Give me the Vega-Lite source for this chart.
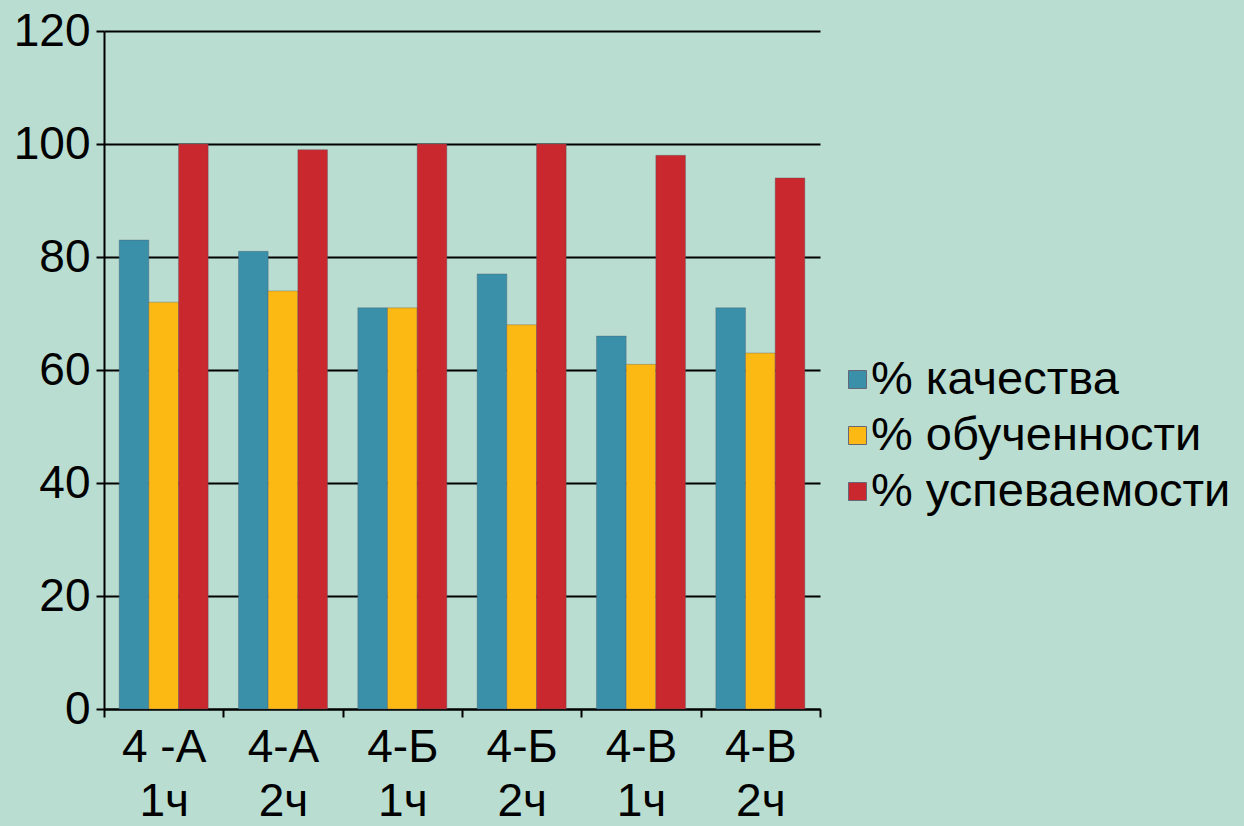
{
  "$schema": "https://vega.github.io/schema/vega-lite/v6.json",
  "width": 716,
  "height": 678,
  "autosize": "none",
  "padding": {"left": 104, "top": 31, "right": 424, "bottom": 117},
  "background": "#b9ddd0",
  "data": {
    "values": [
      {"group": "4 -А|1ч", "series": "% качества", "value": 83},
      {"group": "4 -А|1ч", "series": "% обученности", "value": 72},
      {"group": "4 -А|1ч", "series": "% успеваемости", "value": 100},
      {"group": "4-А|2ч", "series": "% качества", "value": 81},
      {"group": "4-А|2ч", "series": "% обученности", "value": 74},
      {"group": "4-А|2ч", "series": "% успеваемости", "value": 99},
      {"group": "4-Б|1ч", "series": "% качества", "value": 71},
      {"group": "4-Б|1ч", "series": "% обученности", "value": 71},
      {"group": "4-Б|1ч", "series": "% успеваемости", "value": 100},
      {"group": "4-Б|2ч", "series": "% качества", "value": 77},
      {"group": "4-Б|2ч", "series": "% обученности", "value": 68},
      {"group": "4-Б|2ч", "series": "% успеваемости", "value": 100},
      {"group": "4-В|1ч", "series": "% качества", "value": 66},
      {"group": "4-В|1ч", "series": "% обученности", "value": 61},
      {"group": "4-В|1ч", "series": "% успеваемости", "value": 98},
      {"group": "4-В|2ч", "series": "% качества", "value": 71},
      {"group": "4-В|2ч", "series": "% обученности", "value": 63},
      {"group": "4-В|2ч", "series": "% успеваемости", "value": 94}
    ]
  },
  "mark": {"type": "bar", "stroke": "#556", "strokeOpacity": 0.35, "strokeWidth": 1},
  "encoding": {
    "x": {
      "field": "group",
      "type": "nominal",
      "sort": null,
      "scale": {"paddingInner": 0, "paddingOuter": 0},
      "axis": {
        "title": null,
        "labelAngle": 0,
        "labelExpr": "split(datum.label, '|')",
        "labelFont": "Liberation Sans",
        "labelFontSize": 46,
        "labelColor": "#000000",
        "labelLineHeight": 54,
        "labelPadding": 8,
        "tickBand": "extent",
        "tickColor": "#000000",
        "tickSize": 8,
        "tickWidth": 2,
        "domainColor": "#000000",
        "domainWidth": 2
      }
    },
    "xOffset": {
      "field": "series",
      "type": "nominal",
      "sort": ["% качества", "% обученности", "% успеваемости"],
      "scale": {"paddingInner": 0, "paddingOuter": 0.511}
    },
    "y": {
      "field": "value",
      "type": "quantitative",
      "scale": {"domain": [0, 120], "nice": false},
      "axis": {
        "title": null,
        "values": [0, 20, 40, 60, 80, 100, 120],
        "labelFont": "Liberation Sans",
        "labelFontSize": 46,
        "labelColor": "#000000",
        "labelPadding": 6,
        "tickColor": "#000000",
        "tickSize": 8,
        "tickWidth": 2,
        "domainColor": "#000000",
        "domainWidth": 2,
        "grid": true,
        "gridColor": "#000000",
        "gridWidth": 2
      }
    },
    "color": {
      "field": "series",
      "type": "nominal",
      "scale": {
        "domain": ["% качества", "% обученности", "% успеваемости"],
        "range": ["#3a8fa9", "#fdb913", "#c8282e"]
      },
      "legend": {
        "title": null,
        "orient": "none",
        "legendX": 730,
        "legendY": 325,
        "padding": 0,
        "labelFont": "Liberation Sans",
        "labelFontSize": 47,
        "labelColor": "#000000",
        "labelOffset": -10,
        "symbolType": "square",
        "symbolSize": 324,
        "symbolStrokeColor": "#667",
        "symbolStrokeWidth": 1,
        "rowPadding": 8,
        "labelLimit": 500
      }
    }
  },
  "config": {"view": {"stroke": null}}
}
